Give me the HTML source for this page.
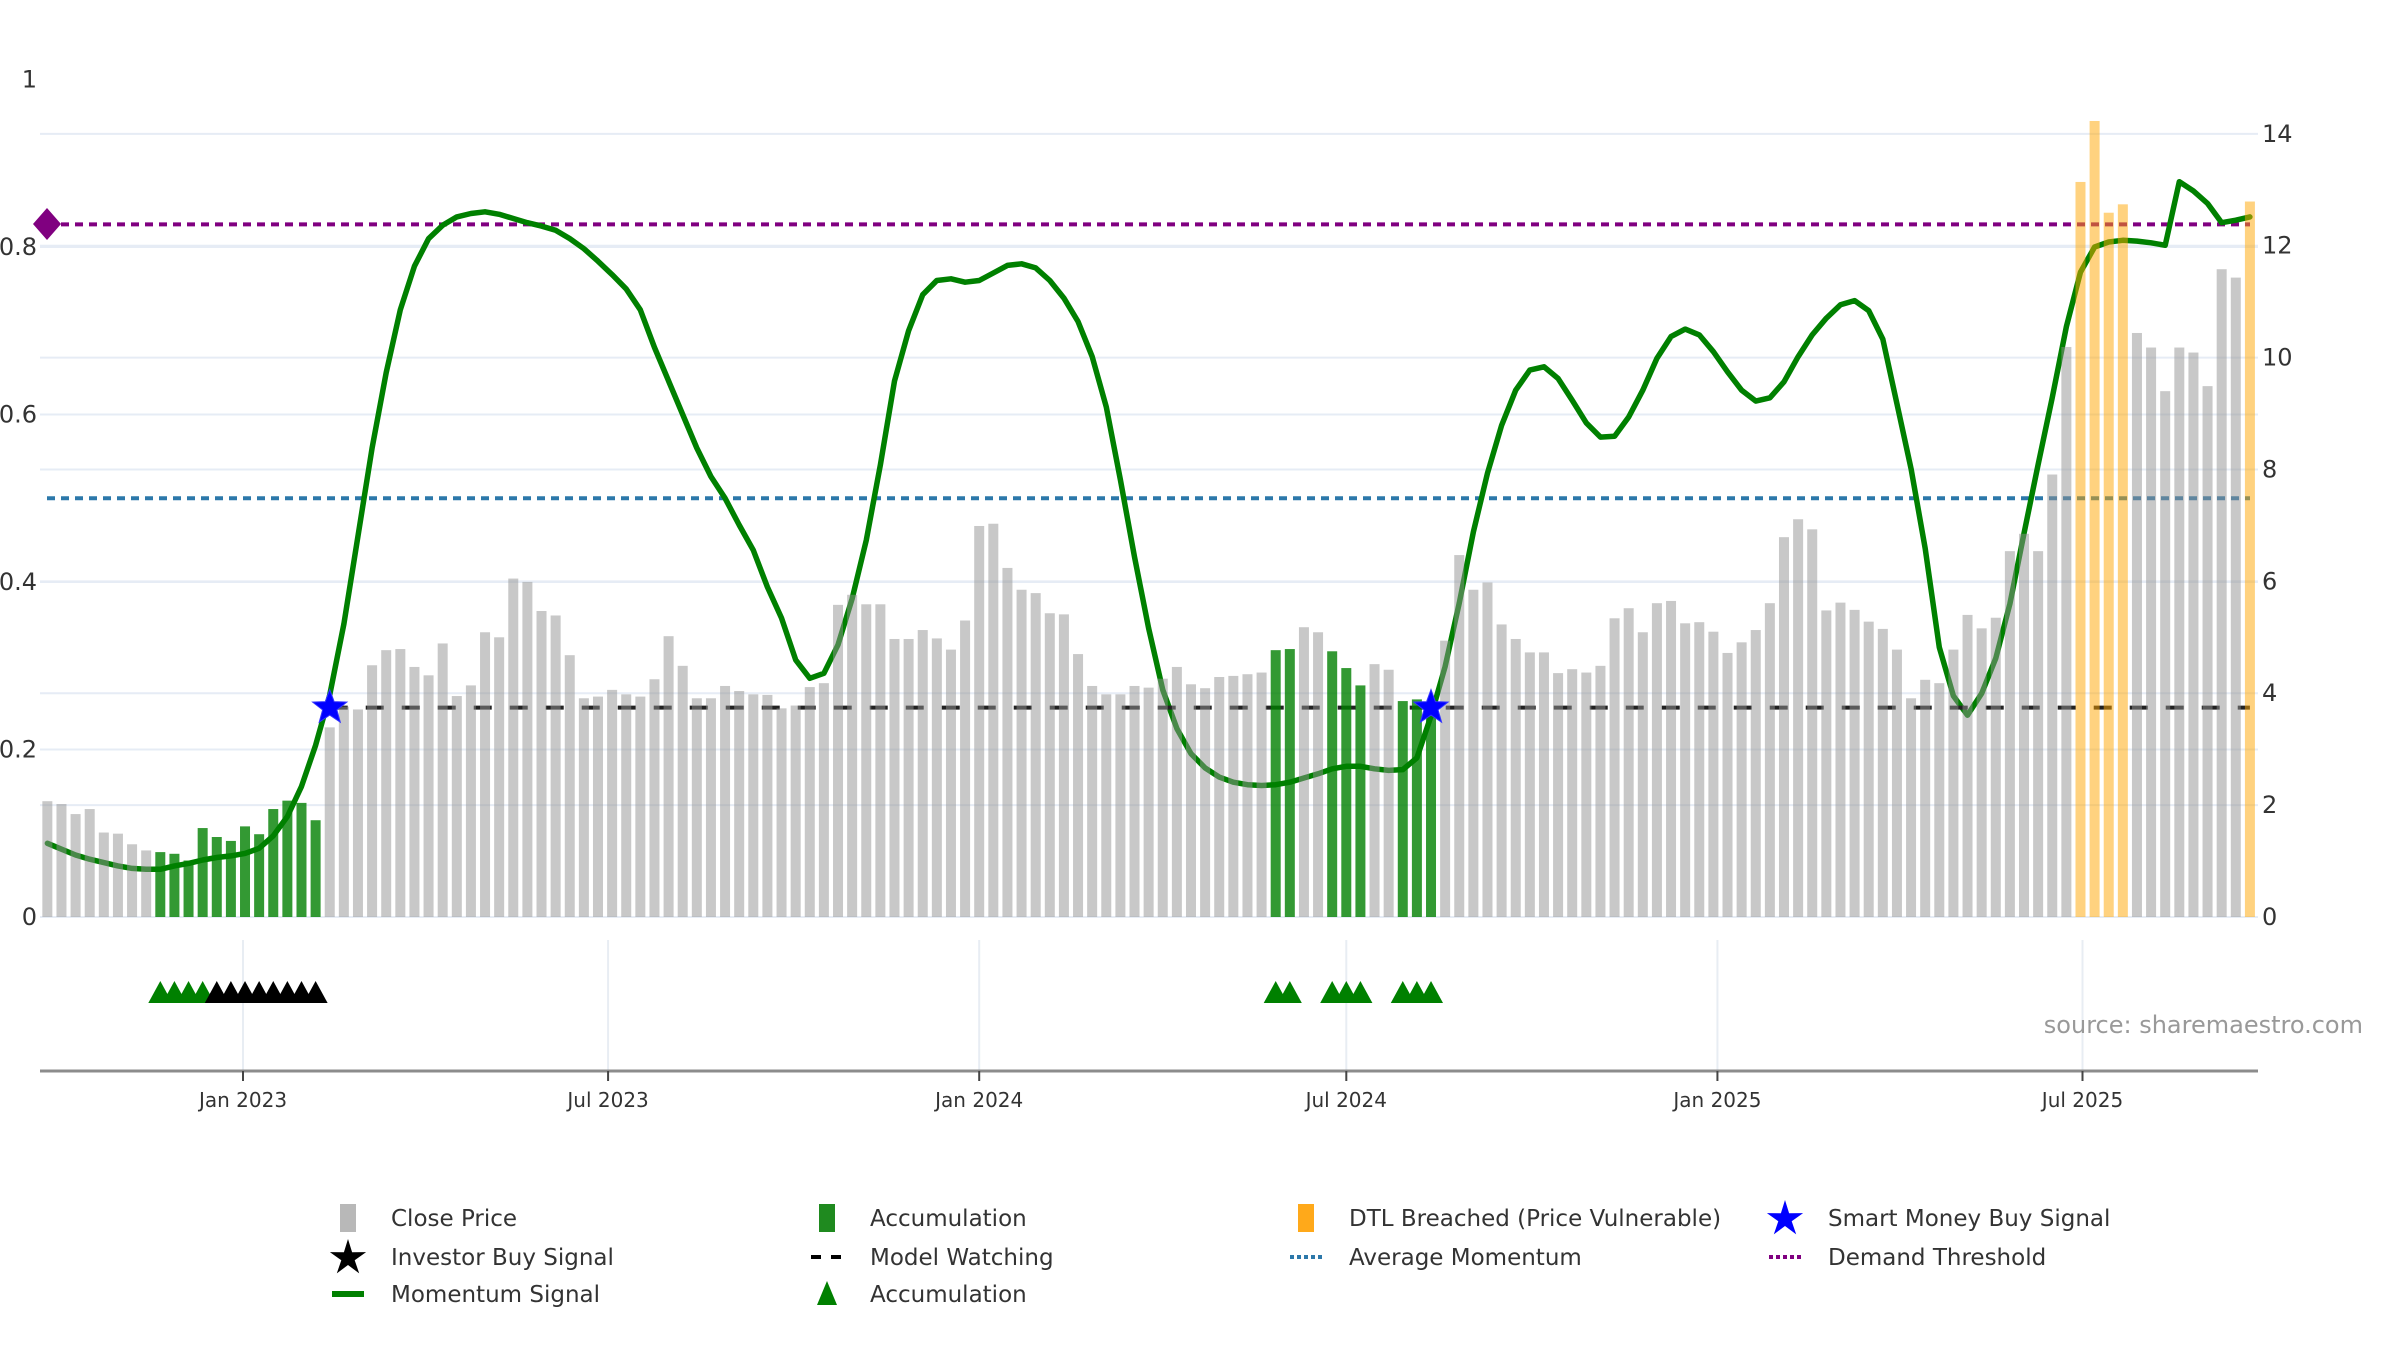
<!DOCTYPE html>
<html>
<head>
<meta charset="utf-8">
<style>
html,body{margin:0;padding:0;background:#fff;}
svg{display:block;font-family:"DejaVu Sans","Liberation Sans",sans-serif;}
</style>
</head>
<body>
<svg id="chart" width="2400" height="1350" viewBox="0 0 2400 1350" xmlns="http://www.w3.org/2000/svg">
  <g id="grid"></g>
  <g id="refs"></g>
  <g id="lineg"></g>
  <g id="watch"></g>
  <g id="bars"></g>
  <g id="marks"></g>
  <g id="lower"></g>
  <g id="axes"></g>
  <text x="2363" y="1033" text-anchor="end" font-size="24" fill="#999">source: sharemaestro.com</text>
  <g id="legend"></g>
</svg>
<script>
// ---------- DATA ----------
const startDate = "2022-09-26";
const closePrice = [2.07,2.02,1.84,1.93,1.51,1.49,1.30,1.19,1.16,1.13,1.01,1.59,1.43,1.36,1.62,1.48,1.93,2.08,2.04,1.73,
3.39,3.76,3.71,4.50,4.77,4.79,4.47,4.32,4.89,3.95,4.14,5.09,5.00,6.05,5.99,5.47,5.39,4.68,3.91,3.94,
4.06,3.98,3.94,4.25,5.02,4.49,3.91,3.91,4.13,4.04,3.98,3.97,3.73,3.78,4.11,4.18,5.58,5.76,5.59,5.59,
4.97,4.97,5.13,4.98,4.78,5.30,6.99,7.03,6.24,5.85,5.79,5.43,5.41,4.70,4.13,3.98,3.98,4.13,4.10,4.26,
4.47,4.16,4.09,4.29,4.31,4.34,4.37,4.77,4.79,5.18,5.09,4.75,4.45,4.14,4.52,4.42,3.86,3.89,3.85,4.94,
6.47,5.85,5.98,5.23,4.97,4.73,4.73,4.36,4.43,4.37,4.49,5.34,5.52,5.09,5.61,5.65,5.25,5.27,5.10,4.72,
4.91,5.13,5.61,6.79,7.11,6.93,5.48,5.62,5.49,5.28,5.15,4.78,3.91,4.24,4.18,4.78,5.40,5.16,5.35,6.54,
6.85,6.54,7.91,10.19,13.14,14.23,12.59,12.74,10.44,10.18,9.40,10.18,10.09,9.49,11.58,11.43,12.79];
const momentum = [0.088,0.081,0.074,0.069,0.065,0.061,0.058,0.057,0.057,0.061,0.064,0.068,0.071,0.073,0.076,0.082,0.097,0.12,0.156,0.205,
0.265,0.35,0.455,0.56,0.65,0.725,0.777,0.81,0.826,0.836,0.84,0.842,0.839,0.834,0.829,0.825,0.82,0.81,0.798,0.783,
0.767,0.75,0.725,0.68,0.64,0.6,0.56,0.526,0.5,0.468,0.438,0.394,0.357,0.307,0.285,0.291,0.325,0.38,0.45,0.54,
0.64,0.70,0.743,0.76,0.762,0.758,0.76,0.769,0.778,0.78,0.775,0.76,0.739,0.711,0.669,0.609,0.522,0.43,0.345,0.271,
0.225,0.195,0.178,0.167,0.161,0.158,0.157,0.158,0.161,0.166,0.171,0.177,0.18,0.18,0.177,0.175,0.176,0.19,0.24,0.299,
0.375,0.46,0.53,0.587,0.629,0.653,0.657,0.643,0.617,0.59,0.573,0.574,0.597,0.629,0.667,0.693,0.702,0.695,0.675,0.651,
0.629,0.616,0.62,0.639,0.669,0.695,0.715,0.731,0.736,0.724,0.69,0.613,0.535,0.44,0.322,0.264,0.241,0.267,0.309,0.374,
0.458,0.54,0.62,0.705,0.77,0.80,0.806,0.808,0.807,0.805,0.802,0.878,0.867,0.852,0.829,0.832,0.836];
const accumulationWeeks = [9,10,11,12,13,14,15,16,17,18,19,20,88,89,92,93,94,97,98,99];
const dtlBreachedWeeks = [145,146,147,148,157];
const accumTriangleWeeks = [9,10,11,12,88,89,92,93,94,97,98,99];
const investorBuyWeeks = [13,14,15,16,17,18,19,20];
const smartMoneyWeeks = [21,99];
const watchStartWeek = 21;
const watchLevel = 0.25;
const averageMomentum = 0.5;
const demandThreshold = 0.827;
const leftTicks = [0,0.2,0.4,0.6,0.8,1];
const leftTickLabels = ["0","0.2","0.4","0.6","0.8","1"];
const rightTicks = [0,2,4,6,8,10,12,14];
const xTickDates = ["2023-01-01","2023-07-01","2024-01-01","2024-07-01","2025-01-01","2025-07-01"];
const xTickLabels = ["Jan 2023","Jul 2023","Jan 2024","Jul 2024","Jan 2025","Jul 2025"];

// ---------- SCALES ----------
const NS = "http://www.w3.org/2000/svg";
const DAY = 86400000;
const origin = Date.UTC(2023,0,1);
function dayNum(s){const p=s.split("-");return (Date.UTC(+p[0],+p[1]-1,+p[2])-origin)/DAY;}
function xDate(s){return 243 + dayNum(s)*2.017;}
const start0 = dayNum(startDate);
function xWeek(n){return 243 + (start0 + (n-1)*7)*2.017;}
function yL(v){return 917 - 837.5*v;}
function yR(v){return 917 - 55.94*v;}
const PLOT_L = 40, PLOT_R = 2258;

function mk(tag, attrs, parent){
  const el = document.createElementNS(NS, tag);
  for (const k in attrs) el.setAttribute(k, attrs[k]);
  parent.appendChild(el);
  return el;
}
const G = id => document.getElementById(id);

// ---------- GRID ----------
const grid = G("grid");
leftTicks.forEach(v=>{ if(v>0 && v<1){
  const l = mk("line",{x1:PLOT_L,x2:PLOT_R,y1:yL(v),y2:yL(v),stroke:"#e6ecf5","stroke-width":2},grid);
  
  
}});
rightTicks.forEach(v=>{
  const l = mk("line",{x1:PLOT_L,x2:PLOT_R,y1:yR(v),y2:yR(v),stroke:"#e6ecf5","stroke-width":2},grid);
  
  
});
xTickDates.forEach(d=>{
  const l = mk("line",{x1:xDate(d),x2:xDate(d),y1:940,y2:1071,stroke:"#e8edf3","stroke-width":2},grid);
  
  
});

// ---------- REFERENCE LINES ----------
const refs = G("refs");
const dl = mk("line",{x1:47,x2:2250,y1:yL(demandThreshold),y2:yL(demandThreshold),stroke:"#800080","stroke-width":4,"stroke-dasharray":"8,6"},refs);


const al = mk("line",{x1:47,x2:2250,y1:yL(averageMomentum),y2:yL(averageMomentum),stroke:"#2c78aa","stroke-width":4,"stroke-dasharray":"8,6"},refs);



// ---------- MOMENTUM LINE ----------
const pts = momentum.map((v,i)=>xWeek(i+1).toFixed(1)+","+yL(v).toFixed(1)).join(" ");
const ml = mk("polyline",{points:pts,fill:"none",stroke:"#008000","stroke-width":5.5,"stroke-linejoin":"round","stroke-linecap":"round"},G("lineg"));



// ---------- MODEL WATCHING ----------
const wl = mk("line",{x1:xWeek(watchStartWeek),x2:xWeek(closePrice.length),y1:yL(watchLevel),y2:yL(watchLevel),stroke:"#222","stroke-width":4,"stroke-dasharray":"18,18"},G("watch"));



// ---------- BARS ----------
const bars = G("bars");
const bw = 10;
closePrice.forEach((v,i)=>{
  const n = i+1;
  let fill="#929292", op=0.5, name="close-price-bar";
  if (accumulationWeeks.includes(n)){fill="#008000";op=0.8;name="accumulation-bar";}
  if (dtlBreachedWeeks.includes(n)){fill="#ffa500";op=0.5;name="dtl-breached-bar";}
  const r = mk("rect",{x:xWeek(n)-bw/2,y:yR(v),width:bw,height:yR(0)-yR(v),fill:fill,"fill-opacity":op},bars);
  
  
});

// ---------- MARKERS ----------
function starPath(cx,cy,R,r){
  let d="";
  for(let k=0;k<10;k++){
    const a = -Math.PI/2 + k*Math.PI/5;
    const rad = k%2===0?R:r;
    d += (k?"L":"M")+(cx+rad*Math.cos(a)).toFixed(1)+","+(cy+rad*Math.sin(a)).toFixed(1);
  }
  return d+"Z";
}
const marks = G("marks");
smartMoneyWeeks.forEach(n=>{
  const s = mk("path",{d:starPath(xWeek(n),yL(watchLevel),18,7.5),fill:"#0000ff",stroke:"#3333ff","stroke-width":1},marks);
  
  
});
const dia = mk("path",{d:"M47,208 L61,224 L47,240 L33,224 Z",fill:"#800080"},marks);



// ---------- LOWER PANEL ----------
const lower = G("lower");
function tri(n,color,name){
  const x = xWeek(n);
  const t = mk("path",{d:`M${x-12},1003 L${x},981 L${x+12},1003 Z`,fill:color},lower);
  
  
}
accumTriangleWeeks.forEach(n=>tri(n,"#008000","accumulation-triangle"));
investorBuyWeeks.forEach(n=>tri(n,"#000000","investor-buy-triangle"));

// ---------- AXES ----------
const axes = G("axes");
const xl = mk("line",{x1:PLOT_L,x2:PLOT_R,y1:1071,y2:1071,stroke:"#8c8c8c","stroke-width":3},axes);


xTickDates.forEach((d,i)=>{
  const x = xDate(d);
  const tk = mk("line",{x1:x,x2:x,y1:1071,y2:1081,stroke:"#444","stroke-width":2},axes);
  
  
  const t = mk("text",{x:x,y:1107,"text-anchor":"middle","font-size":20,fill:"#333"},axes);
  t.textContent = xTickLabels[i];
  
  
});
leftTicks.forEach((v,i)=>{
  const t = mk("text",{x:37,y:yL(v)+8,"text-anchor":"end","font-size":24,fill:"#333"},axes);
  t.textContent = leftTickLabels[i];
  
  
});
rightTicks.forEach(v=>{
  const t = mk("text",{x:2262,y:yR(v)+8,"text-anchor":"start","font-size":24,fill:"#333"},axes);
  t.textContent = String(v);
  
  
});

// ---------- LEGEND ----------
const leg = G("legend");
const colX = [348,827,1306,1785];
const rowY = [1218,1257,1294];
function legText(c,r,txt){
  const t = mk("text",{x:colX[c]+43,y:rowY[r]+8,"font-size":23,fill:"#333"},leg);
  t.textContent = txt;
  
  
}
function legRect(c,r,color,name){
  const e = mk("rect",{x:colX[c]-8,y:rowY[r]-14,width:16,height:28,fill:color},leg);
  
  
}
function legLine(c,r,color,dash,w,name){
  const e = mk("line",{x1:colX[c]-16,x2:colX[c]+16,y1:rowY[r],y2:rowY[r],stroke:color,"stroke-width":w,"stroke-dasharray":dash},leg);
  
  
}
function legStar(c,r,color,name){
  const e = mk("path",{d:starPath(colX[c],rowY[r]+1,19,7),fill:color},leg);
  
  
}
legRect(0,0,"#b8b8b8","legend-close-price-swatch"); legText(0,0,"Close Price");
legStar(0,1,"#000","legend-investor-buy-swatch"); legText(0,1,"Investor Buy Signal");
legLine(0,2,"#008000","none",6,"legend-momentum-swatch"); legText(0,2,"Momentum Signal");
legRect(1,0,"#1f8a1f","legend-accumulation-swatch"); legText(1,0,"Accumulation");
legLine(1,1,"#000","10,10",4,"legend-model-watching-swatch"); legText(1,1,"Model Watching");
const lt = mk("path",{d:`M${colX[1]-10},${rowY[2]+11} L${colX[1]},${rowY[2]-13} L${colX[1]+10},${rowY[2]+11} Z`,fill:"#008000"},leg);


legText(1,2,"Accumulation");
legRect(2,0,"#ffa91a","legend-dtl-breached-swatch"); legText(2,0,"DTL Breached (Price Vulnerable)");
legLine(2,1,"#2c78aa","4,3",4,"legend-average-momentum-swatch"); legText(2,1,"Average Momentum");
legStar(3,0,"#0000ff","legend-smart-money-swatch"); legText(3,0,"Smart Money Buy Signal");
legLine(3,1,"#800080","4,3",4,"legend-demand-threshold-swatch"); legText(3,1,"Demand Threshold");
</script>
</body>
</html>
